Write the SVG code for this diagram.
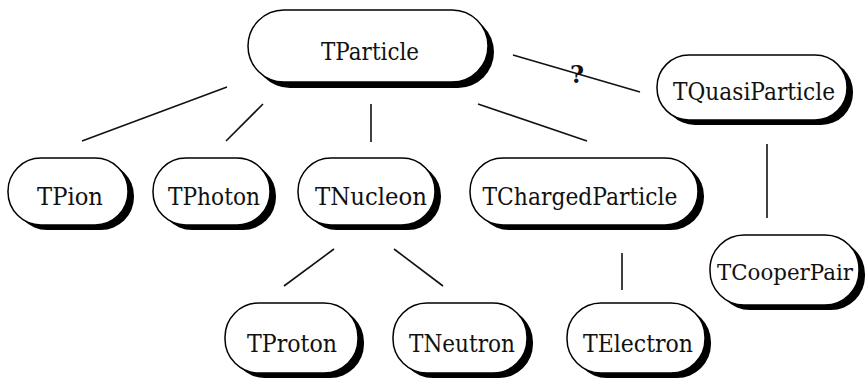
<svg xmlns="http://www.w3.org/2000/svg" width="866" height="381" viewBox="0 0 866 381">
<style>
.sh{fill:#000}
.bx{fill:#fff;stroke:#000;stroke-width:1.5}
.t{font-family:"DejaVu Serif","Liberation Serif",serif;font-size:25px;fill:#111;text-anchor:middle}
.q{font-family:"DejaVu Serif","Liberation Serif",serif;font-size:24px;font-weight:bold;fill:#111;text-anchor:middle}
.c line{stroke:#111;stroke-width:1.6}
</style>
<rect width="866" height="381" fill="#fff"/>
<g class="c" id="connectors">
<line x1="82" y1="141" x2="227" y2="87"/>
<line x1="226" y1="141" x2="263" y2="104"/>
<line x1="371" y1="104" x2="371" y2="142"/>
<line x1="478" y1="104" x2="587" y2="141"/>
<line x1="513" y1="55" x2="640" y2="92"/>
<line x1="284" y1="286" x2="334" y2="249"/>
<line x1="394" y1="249" x2="443" y2="286"/>
<line x1="622" y1="253" x2="622" y2="290"/>
<line x1="767" y1="144" x2="767" y2="218"/>
<text class="q" x="577" y="83">?</text>
</g>
<g id="TParticle">
<rect class="sh" x="254" y="16" width="240" height="72" rx="36"/>
<rect class="bx" x="248" y="10" width="240" height="72" rx="36"/>
<text class="t" x="370" y="60" textLength="98" lengthAdjust="spacingAndGlyphs">TParticle</text>
</g>
<g id="TQuasiParticle">
<rect class="sh" x="663" y="60" width="190" height="65" rx="32"/>
<rect class="bx" x="657" y="55" width="190" height="65" rx="32"/>
<text class="t" x="754" y="100" textLength="162" lengthAdjust="spacingAndGlyphs">TQuasiParticle</text>
</g>
<g id="TPion">
<rect class="sh" x="14" y="163" width="120" height="67" rx="33"/>
<rect class="bx" x="8" y="158" width="120" height="67" rx="33"/>
<text class="t" x="70" y="205" textLength="66" lengthAdjust="spacingAndGlyphs">TPion</text>
</g>
<g id="TPhoton">
<rect class="sh" x="159" y="163" width="117" height="67" rx="33"/>
<rect class="bx" x="153" y="158" width="117" height="67" rx="33"/>
<text class="t" x="214" y="205" textLength="92" lengthAdjust="spacingAndGlyphs">TPhoton</text>
</g>
<g id="TNucleon">
<rect class="sh" x="304" y="163" width="137" height="67" rx="33"/>
<rect class="bx" x="298" y="158" width="137" height="67" rx="33"/>
<text class="t" x="371" y="205" textLength="112" lengthAdjust="spacingAndGlyphs">TNucleon</text>
</g>
<g id="TChargedParticle">
<rect class="sh" x="476" y="163" width="228" height="67" rx="33"/>
<rect class="bx" x="470" y="158" width="228" height="67" rx="33"/>
<text class="t" x="580" y="205" textLength="195" lengthAdjust="spacingAndGlyphs">TChargedParticle</text>
</g>
<g id="TProton">
<rect class="sh" x="231" y="308" width="133" height="70" rx="34"/>
<rect class="bx" x="225" y="303" width="133" height="70" rx="34"/>
<text class="t" x="292" y="352" textLength="90" lengthAdjust="spacingAndGlyphs">TProton</text>
</g>
<g id="TNeutron">
<rect class="sh" x="399" y="308" width="134" height="70" rx="34"/>
<rect class="bx" x="393" y="303" width="134" height="70" rx="34"/>
<text class="t" x="462" y="352" textLength="106" lengthAdjust="spacingAndGlyphs">TNeutron</text>
</g>
<g id="TElectron">
<rect class="sh" x="573" y="308" width="138" height="70" rx="34"/>
<rect class="bx" x="567" y="303" width="138" height="70" rx="34"/>
<text class="t" x="638" y="352" textLength="110" lengthAdjust="spacingAndGlyphs">TElectron</text>
</g>
<g id="TCooperPair">
<rect class="sh" x="716" y="240" width="149" height="70" rx="34"/>
<rect class="bx" x="710" y="235" width="149" height="70" rx="34"/>
<text class="t" x="785" y="280" style="font-size:23px" textLength="136" lengthAdjust="spacingAndGlyphs">TCooperPair</text>
</g>
</svg>
